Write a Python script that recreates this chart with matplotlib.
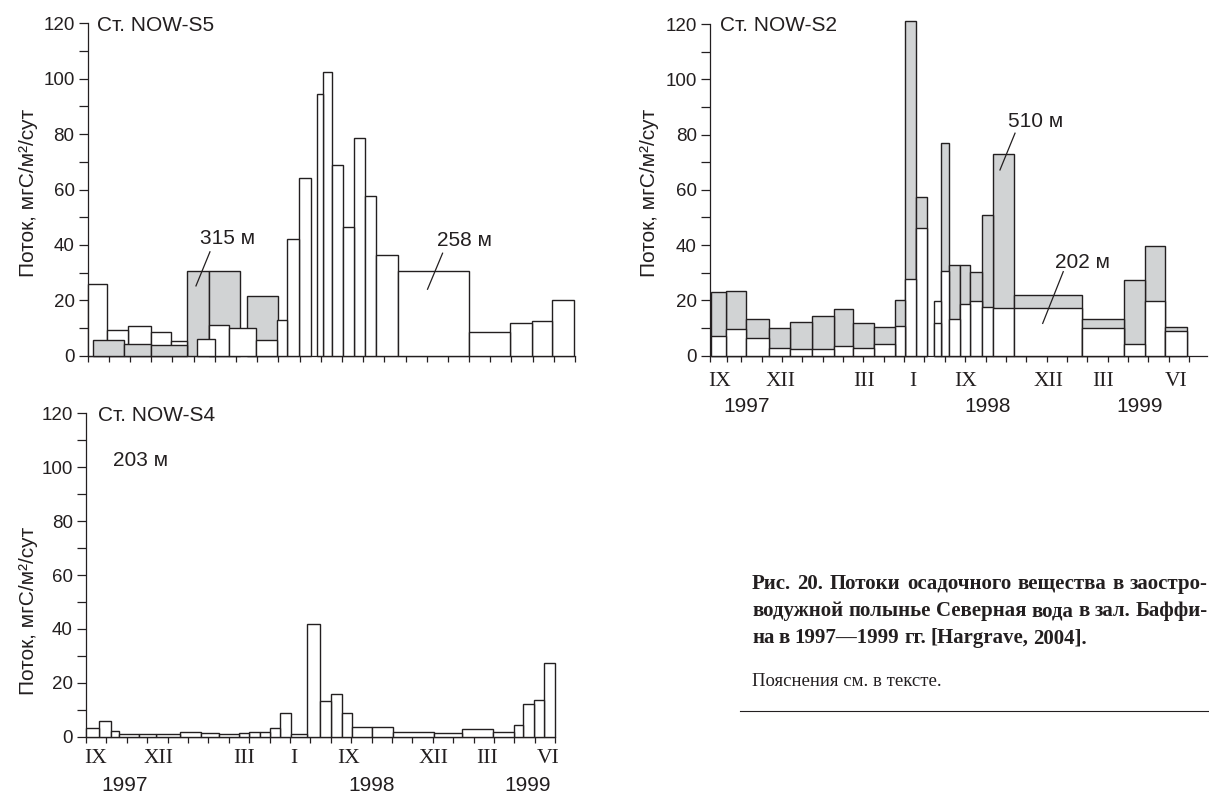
import matplotlib

matplotlib.use("Agg")
import matplotlib.pyplot as plt

W, H = 1209, 793
INK = "#231f20"
SHADE = "#d1d3d4"
SANS = ["Liberation Sans", "DejaVu Sans"]
SERIF = ["Liberation Serif", "DejaVu Serif"]

plt.rcParams["font.family"] = SANS

# ---- data (x in month units from the left end of each axis) ----
# Ст. NOW-S5, 258 м (white) and 315 м (shaded)
S5_258_LEFT = [0, 0.93, 1.89, 2.97, 3.93, 5.14, 5.72, 6.67, 7.95, 8.92, 9.42, 9.97,
               10.8, 11.12, 11.55, 12.06, 12.58, 13.07, 13.62, 14.63, 18.0, 19.93, 20.95, 21.93]
S5_258_RIGHT = [0.93, 1.89, 2.97, 3.93, 4.70, 6.01, 6.67, 7.95, 8.92, 9.42, 9.97, 10.52,
                11.12, 11.55, 12.06, 12.58, 13.07, 13.62, 14.63, 18.0, 19.93, 20.95, 21.93, 22.96]
S5_258_FLUX = [25.8, 9.3, 10.8, 8.4, 5.2, 5.9, 11.1, 10.1, 5.8, 13.0, 42.0, 64.0,
               94.4, 102.4, 69.0, 46.6, 78.6, 57.8, 36.4, 30.7, 8.4, 11.7, 12.6, 20.0]
S5_315_LEFT = [0.23, 1.73, 2.99, 4.70, 5.72, 7.53]
S5_315_RIGHT = [1.73, 2.99, 4.70, 5.72, 7.19, 8.99]
S5_315_FLUX = [5.7, 4.1, 3.9, 30.6, 30.6, 21.4]

# Ст. NOW-S2, 510 м (shaded) and 202 м (white), same sampling intervals
S2_LEFT = [0.03, 0.79, 1.78, 2.91, 3.93, 5.01, 6.08, 7.04, 8.07, 9.11, 9.59, 10.12,
           11.01, 11.33, 11.76, 12.29, 12.79, 13.35, 13.91, 14.95, 18.29, 20.36, 21.38, 22.37]
S2_RIGHT = [0.79, 1.78, 2.91, 3.93, 5.01, 6.08, 7.04, 8.07, 9.11, 9.59, 10.12, 10.65,
            11.33, 11.76, 12.29, 12.79, 13.35, 13.91, 14.95, 18.29, 20.36, 21.38, 22.37, 23.44]
S2_510_FLUX = [23.0, 23.5, 13.1, 10.0, 12.2, 14.5, 16.8, 11.9, 10.5, 20.0, 121.2, 57.3,
               19.8, 77.1, 32.8, 32.8, 30.4, 50.8, 73.1, 22.1, 13.4, 27.4, 39.7, 10.3]
S2_202_FLUX = [7.1, 9.8, 6.3, 2.9, 2.4, 2.4, 3.6, 2.9, 4.3, 10.7, 27.6, 46.3,
               11.9, 30.8, 13.4, 18.6, 19.8, 17.7, 17.1, 17.1, 9.9, 4.1, 19.9, 8.8]

# Ст. NOW-S4, 203 м (contiguous intervals)
S4_EDGES = [0, 0.64, 1.23, 1.63, 2.61, 3.41, 4.62, 5.65, 6.52, 7.50, 7.99, 8.53, 9.02,
            9.51, 10.03, 10.82, 11.49, 12.01, 12.53, 13.02, 14.02, 15.03, 17.06, 18.45,
            19.94, 21.0, 21.44, 21.98, 22.45, 22.99]
S4_203_FLUX = [3.1, 5.9, 2.1, 1.1, 0.9, 1.0, 1.6, 1.4, 1.0, 1.5, 1.7, 1.6, 3.2, 8.7,
               1.1, 41.8, 13.2, 16.0, 8.9, 3.7, 3.7, 1.9, 1.4, 2.7, 1.7, 4.3, 12.1, 13.6, 27.5]

MONTH_LABELS = ["IX", "XII", "III", "I", "IX", "XII", "III", "VI"]
YEAR_LABELS = ["1997", "1998", "1999"]
S4_MONTH_POS = [0.46, 3.56, 7.75, 10.2, 12.86, 17.03, 19.64, 22.65]
S4_YEAR_POS = [1.87, 13.98, 21.62]
S2_MONTH_POS = [0.49, 3.47, 7.58, 9.99, 12.58, 16.62, 19.33, 22.93]
S2_YEAR_POS = [1.80, 13.63, 21.13]

YLABEL = "Поток, мгС/м²/сут"
FS_TICK = 13.5
FS = 15


def _frac(left_px, top_px, right_px, bottom_px):
    return [left_px / W, 1 - bottom_px / H, (right_px - left_px) / W, (bottom_px - top_px) / H]


def _draw_bars(ax, bars):
    """bars: (left, right, height, face); taller drawn first so short ones stay visible."""
    for k, (lo, hi, h, face) in enumerate(sorted(bars, key=lambda b: -b[2])):
        ax.bar(lo, h, width=hi - lo, align="edge", facecolor=face, edgecolor=INK,
               linewidth=1.0, zorder=3 + k * 0.01, clip_on=False)


def _setup(ax, xmax, xticks, title, title_x, ylabel_y):
    ax.set_xlim(0, xmax)
    ax.set_ylim(0, 120)
    for side in ("top", "right"):
        ax.spines[side].set_visible(False)
    for side in ("left", "bottom"):
        ax.spines[side].set_color(INK)
        ax.spines[side].set_linewidth(0.9)
    ax.set_yticks(range(0, 121, 20))
    ax.set_yticks(range(10, 120, 20), minor=True)
    ax.set_xticks(xticks)
    ax.set_xticklabels([])
    ax.tick_params(axis="y", which="both", direction="out", length=6.5, width=0.9,
                   color=INK, labelcolor=INK, labelsize=FS_TICK, pad=3)
    ax.tick_params(axis="x", which="both", direction="out", length=4.2, width=0.9, color=INK)
    ax.set_ylabel(YLABEL, fontsize=FS, color=INK)
    ax.yaxis.set_label_coords(-0.103, ylabel_y)
    ax.text(title_x, 117.3, title, fontsize=FS, color=INK, ha="left", va="baseline")


def _month_labels(ax, mpos, ypos, my, yy):
    for lab, x in zip(MONTH_LABELS, mpos):
        ax.text(x, my, lab, family=SERIF, fontsize=15.5, color=INK, ha="center",
                va="baseline", clip_on=False)
    for lab, x in zip(YEAR_LABELS, ypos):
        ax.text(x, yy, lab, fontsize=FS, color=INK, ha="center", va="baseline", clip_on=False)


def _leader(ax, x0, y0, x1, y1):
    ax.plot([x0, x1], [y0, y1], color=INK, linewidth=0.9, zorder=10, clip_on=False)


fig = plt.figure(figsize=(W / 100, H / 100), dpi=100)

# ---- NOW-S5 ----
ax5 = fig.add_axes(_frac(87.7, 23.3, 575.0, 355.7))
_setup(ax5, 23, range(0, 24), "Ст. NOW-S5", 0.42, 0.49)
bars = [(lo, hi, h, "white") for lo, hi, h in zip(S5_258_LEFT, S5_258_RIGHT, S5_258_FLUX)]
bars += [(lo, hi, h, SHADE) for lo, hi, h in zip(S5_315_LEFT, S5_315_RIGHT, S5_315_FLUX)]
_draw_bars(ax5, bars)
ax5.text(5.30, 40.2, "315 м", fontsize=FS, color=INK, ha="left", va="baseline")
_leader(ax5, 5.77, 37.5, 5.11, 25.2)
ax5.text(16.47, 39.6, "258 м", fontsize=FS, color=INK, ha="left", va="baseline", zorder=10)
_leader(ax5, 16.75, 37.0, 16.04, 24.0)

# ---- NOW-S2 ----
ax2 = fig.add_axes(_frac(710.0, 24.0, 1206.5, 355.7))
s2_ticks = [0, 0.84] + [1.54 + k for k in range(23)]
_setup(ax2, 24.4, s2_ticks, "Ст. NOW-S2", 0.49, 0.49)
bars = []
for i, (lo, hi, deep, shallow) in enumerate(zip(S2_LEFT, S2_RIGHT, S2_510_FLUX, S2_202_FLUX)):
    bars.append((lo, hi, deep, "white" if i == 12 else SHADE))  # that trap is unshaded in the source
    bars.append((lo, hi, shallow, "white"))
_draw_bars(ax2, bars)
ax2.text(14.66, 82.7, "510 м", fontsize=FS, color=INK, ha="left", va="baseline")
_leader(ax2, 14.99, 80.5, 14.25, 67.2)
ax2.text(16.95, 31.9, "202 м", fontsize=FS, color=INK, ha="left", va="baseline")
_leader(ax2, 17.36, 30.4, 16.35, 11.7)
_month_labels(ax2, S2_MONTH_POS, S2_YEAR_POS, -11.0, -20.3)

# ---- NOW-S4 ----
ax4 = fig.add_axes(_frac(86.0, 413.3, 555.3, 736.7))
_setup(ax4, 23, range(0, 24), "Ст. NOW-S4", 0.6, 0.39)
bars = [(lo, hi, h, "white") for lo, hi, h in zip(S4_EDGES[:-1], S4_EDGES[1:], S4_203_FLUX)]
_draw_bars(ax4, bars)
ax4.text(1.34, 100.4, "203 м", fontsize=FS, color=INK, ha="left", va="baseline")
_month_labels(ax4, S4_MONTH_POS, S4_YEAR_POS, -9.9, -20.0)

# ---- caption ----
CAPTION = [
    "Рис. 20. Потоки осадочного вещества в заостро-",
    "водужной полынье Северная вода в зал. Баффи-",
    "на в 1997—1999 гг. [Hargrave, 2004].",
]
CAP_X0, CAP_X1 = 752, 1208
CAP_BASE = [589, 616, 643]
CAP_FS = 15

renderer = fig.canvas.get_renderer()
for n, (line, base) in enumerate(zip(CAPTION, CAP_BASE)):
    words = line.split(" ")
    texts = [fig.text(0, 1 - base / H, w, family=SERIF, fontweight="bold", fontsize=CAP_FS,
                      color=INK, va="baseline", ha="left") for w in words]
    widths = [t.get_window_extent(renderer).width for t in texts]
    space = CAP_FS * 1.389 * 0.22
    if n < len(CAPTION) - 1:
        space = (CAP_X1 - CAP_X0 - sum(widths)) / (len(words) - 1)
    x = CAP_X0
    for t, w in zip(texts, widths):
        t.set_x(x / W)
        x += w + space

fig.text(CAP_X0 / W, 1 - 686 / H, "Пояснения см. в тексте.", family=SERIF, fontsize=13.5,
         color=INK, va="baseline", ha="left")
fig.add_artist(plt.Line2D([740 / W, 1208 / W], [1 - 711 / H, 1 - 711 / H],
                          color=INK, linewidth=0.8))

fig.savefig("out.png", dpi=100)
